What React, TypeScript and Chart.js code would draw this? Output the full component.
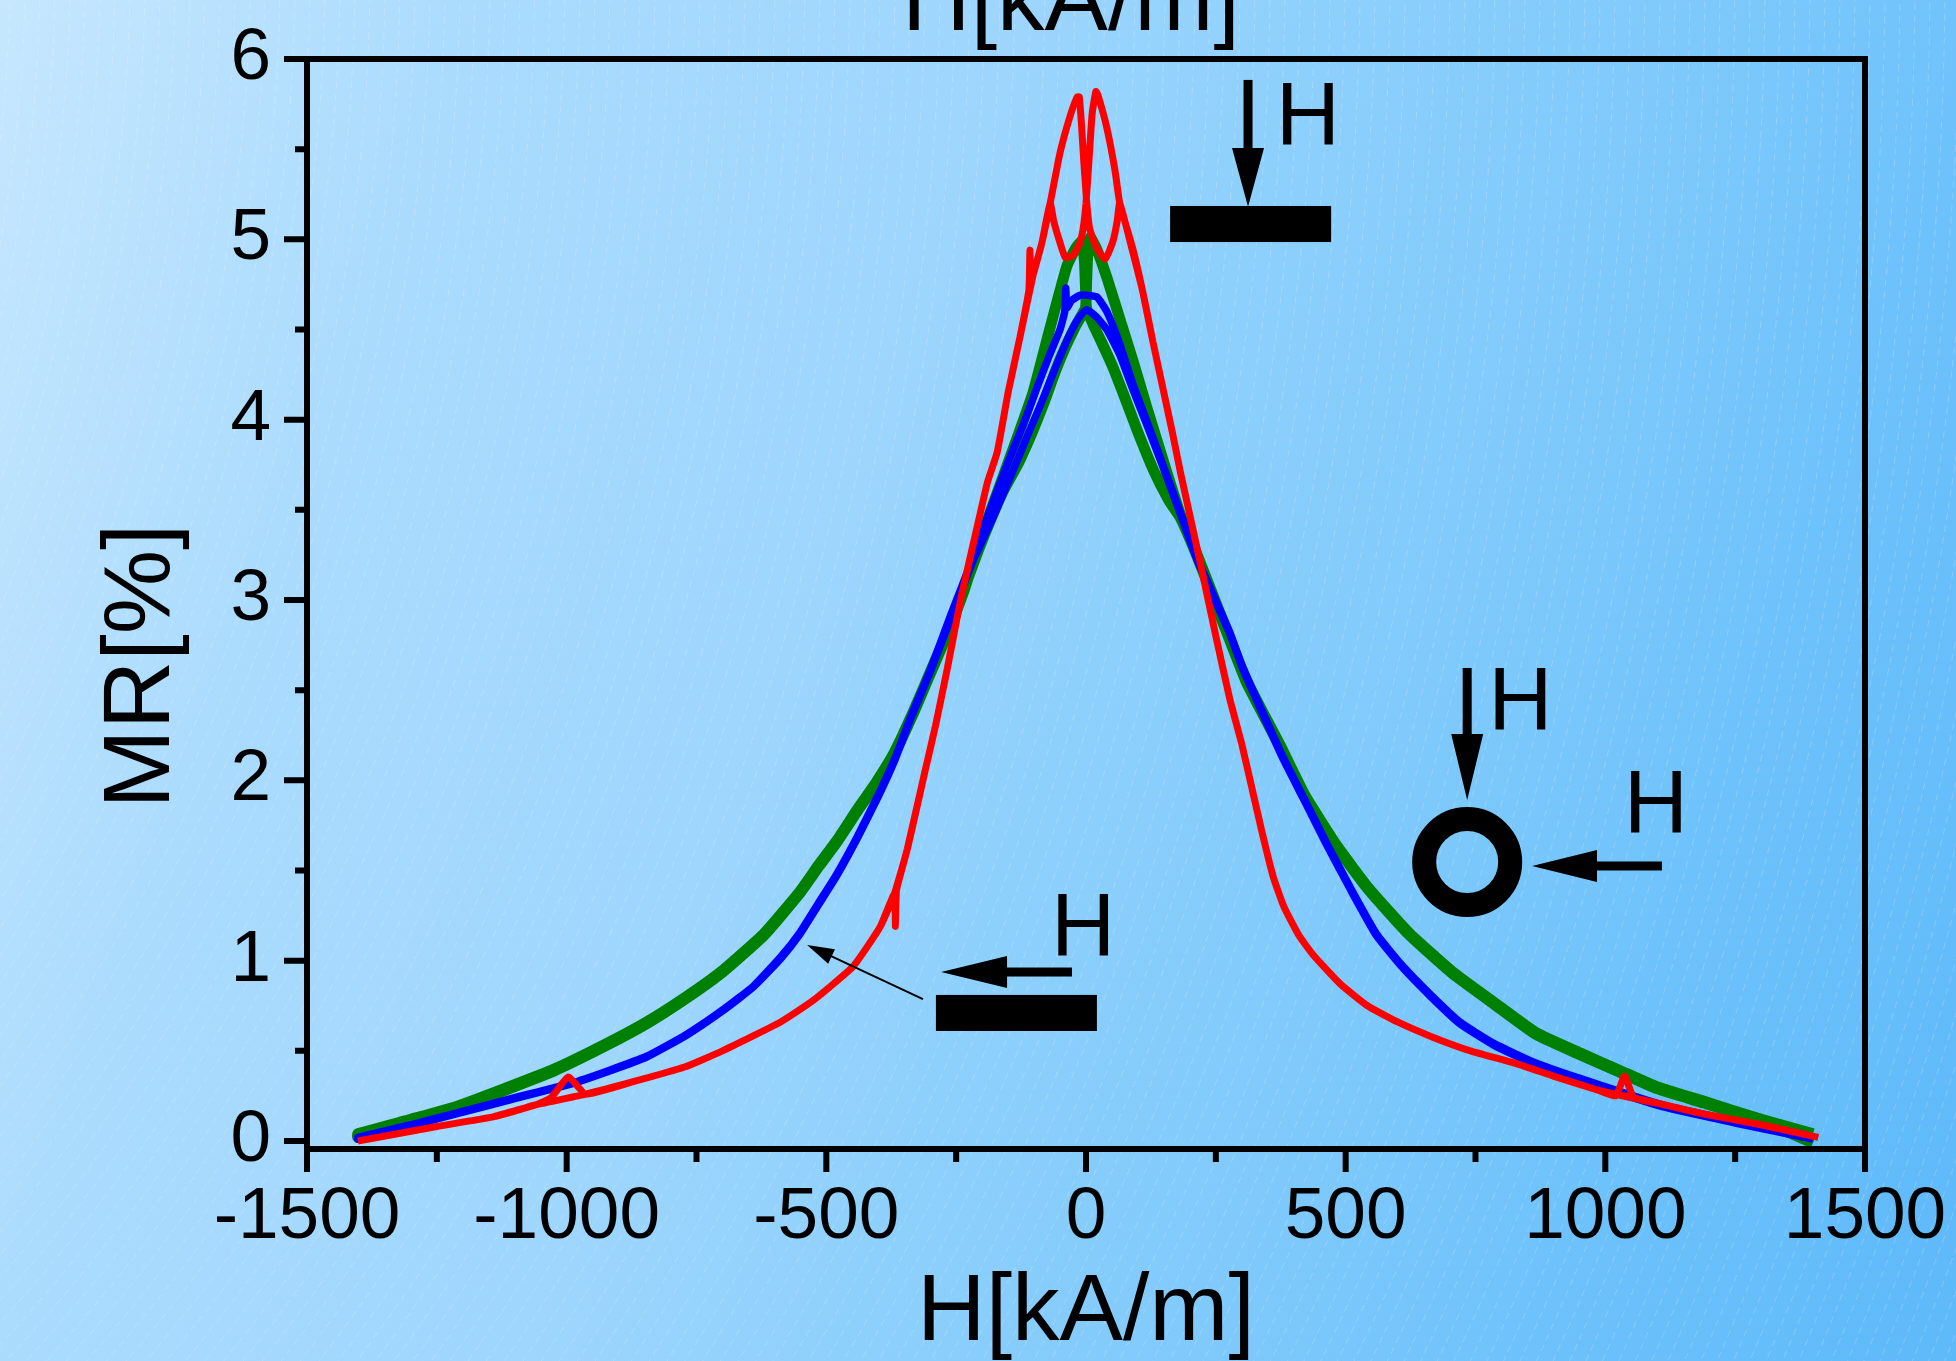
import React, { useEffect, useRef } from "react";
import { Chart, registerables } from "chart.js";

Chart.register(...registerables);

const FONT = "'Liberation Sans', Arial, Helvetica, sans-serif";

// ---- axes ----
const xTicks = [-1500, -1000, -500, 0, 500, 1000, 1500];
const xMinorTicks = [-1250, -750, -250, 250, 750, 1250];
const yTicks = [0, 1, 2, 3, 4, 5, 6];
const yMinorTicks = [0.5, 1.5, 2.5, 3.5, 4.5, 5.5];
const xLabel = "H[kA/m]";
const yLabel = "MR[%]";
const annotationLabel = "H";

// ---- data: [H (kA/m), MR (%)] ----
// red loop, field sweep from +H to -H
const redDown: [number, number][] = [
  [1410, 0.02], [1300, 0.09], [1190, 0.15], [1100, 0.21], [988, 0.28], [900, 0.36], [827, 0.43],
  [740, 0.5], [664, 0.58], [600, 0.66], [542, 0.75], [490, 0.87], [438, 1.03], [410, 1.14],
  [381, 1.3], [360, 1.47], [340, 1.7], [320, 1.95], [300, 2.2], [277, 2.45], [250, 2.8],
  [219, 3.22], [181, 3.72], [167, 3.92], [129, 4.43], [110, 4.7], [90, 4.95], [65, 5.2],
  [56, 5.38], [40, 5.62], [23, 5.8], [19, 5.82], [12, 5.7], [6, 5.45], [0, 5.2], [-6, 5.05],
  [-12, 4.98], [-25, 4.91], [-40, 4.9], [-52, 5.0], [-62, 5.1], [-69, 5.2], [-85, 4.98],
  [-102, 4.8], [-106, 4.75], [-108, 4.94], [-110, 4.72], [-127, 4.46], [-150, 4.15],
  [-171, 3.82], [-190, 3.65], [-210, 3.4], [-240, 3.02], [-267, 2.62], [-290, 2.3],
  [-310, 2.05], [-344, 1.62], [-360, 1.45], [-365, 1.39], [-367, 1.19], [-369, 1.37],
  [-396, 1.19], [-448, 0.97], [-525, 0.78], [-588, 0.66], [-700, 0.5], [-773, 0.41],
  [-870, 0.33], [-963, 0.26], [-997, 0.355], [-1030, 0.24], [-1060, 0.2], [-1140, 0.135],
  [-1250, 0.08], [-1402, 0.0],
];
// red loop, field sweep from -H to +H
const redUp: [number, number][] = [
  [-1402, 0.0], [-1250, 0.08], [-1140, 0.135], [-1060, 0.2], [-963, 0.26], [-870, 0.33],
  [-773, 0.41], [-700, 0.5], [-588, 0.66], [-525, 0.78], [-448, 0.97], [-396, 1.19],
  [-369, 1.37], [-344, 1.62], [-310, 2.05], [-290, 2.3], [-267, 2.62], [-240, 3.02],
  [-210, 3.4], [-190, 3.65], [-171, 3.82], [-150, 4.15], [-127, 4.46], [-102, 4.8],
  [-85, 4.98], [-69, 5.2], [-50, 5.48], [-31, 5.68], [-17, 5.79], [-13, 5.79], [-9, 5.65],
  [-4, 5.42], [1, 5.22], [5, 5.1], [8, 5.05], [21, 4.95], [37, 4.89], [52, 4.99], [60, 5.1],
  [65, 5.2], [90, 4.93], [110, 4.7], [129, 4.43], [167, 3.92], [181, 3.72], [219, 3.22],
  [250, 2.8], [277, 2.45], [300, 2.2], [320, 1.95], [340, 1.7], [360, 1.47], [381, 1.3],
  [410, 1.14], [438, 1.03], [490, 0.87], [542, 0.75], [600, 0.66], [664, 0.58], [740, 0.5],
  [827, 0.43], [900, 0.36], [988, 0.28], [1020, 0.25], [1037, 0.36], [1055, 0.24],
  [1100, 0.21], [1190, 0.15], [1300, 0.09], [1410, 0.02],
];

// blue loop
const blueDown: [number, number][] = [
  [1400, 0.02], [1250, 0.11], [1110, 0.2], [948, 0.35], [860, 0.44], [786, 0.54], [720, 0.66],
  [664, 0.81], [610, 0.97], [559, 1.15], [510, 1.4], [462, 1.66], [420, 1.9], [381, 2.12],
  [340, 2.38], [300, 2.64], [277, 2.82], [245, 3.03], [213, 3.24], [180, 3.5], [148, 3.75],
  [120, 3.97], [90, 4.2], [65, 4.42], [40, 4.6], [21, 4.68], [0, 4.69], [-12, 4.69],
  [-28, 4.66], [-37, 4.62], [-39, 4.73], [-41, 4.6], [-50, 4.5], [-70, 4.36], [-94, 4.18],
  [-120, 3.98], [-152, 3.75], [-185, 3.5], [-217, 3.24], [-260, 2.92], [-300, 2.61],
  [-335, 2.37], [-367, 2.13], [-400, 1.92], [-440, 1.69], [-480, 1.48], [-515, 1.32],
  [-550, 1.16], [-588, 1.02], [-640, 0.86], [-698, 0.73], [-770, 0.59], [-846, 0.47],
  [-920, 0.39], [-992, 0.32], [-1100, 0.24], [-1213, 0.155], [-1300, 0.09], [-1402, 0.02],
];
const blueUp: [number, number][] = [
  [-1402, 0.01], [-1300, 0.085], [-1213, 0.15], [-1100, 0.235], [-992, 0.315], [-920, 0.385],
  [-846, 0.465], [-770, 0.585], [-698, 0.725], [-640, 0.855], [-588, 1.01], [-550, 1.15],
  [-515, 1.31], [-480, 1.47], [-440, 1.68], [-400, 1.91], [-367, 2.12], [-335, 2.36],
  [-300, 2.6], [-260, 2.9], [-217, 3.22], [-180, 3.45], [-140, 3.72], [-110, 3.93],
  [-85, 4.1], [-60, 4.28], [-35, 4.45], [-15, 4.56], [1, 4.61], [20, 4.57], [40, 4.5],
  [65, 4.36], [90, 4.17], [120, 3.95], [148, 3.74], [180, 3.49], [213, 3.23], [245, 3.02],
  [277, 2.81], [300, 2.63], [340, 2.37], [381, 2.11], [420, 1.89], [462, 1.65], [510, 1.39],
  [559, 1.14], [610, 0.96], [664, 0.8], [720, 0.65], [786, 0.53], [860, 0.43], [948, 0.34],
  [1110, 0.19], [1250, 0.1], [1400, 0.01],
];

// green loop
const greenDown: [number, number][] = [
  [1400, 0.04], [1300, 0.12], [1190, 0.22], [1100, 0.3], [1029, 0.39], [950, 0.49], [867, 0.6],
  [790, 0.76], [705, 0.94], [620, 1.16], [542, 1.41], [480, 1.65], [421, 1.92], [373, 2.2],
  [340, 2.38], [308, 2.56], [275, 2.8], [244, 3.03], [210, 3.28], [181, 3.48], [150, 3.76],
  [120, 4.04], [90, 4.33], [65, 4.56], [40, 4.79], [20, 4.95], [8, 5.01], [3, 4.9], [1, 4.75],
  [-1, 4.62], [-20, 4.52], [-40, 4.4], [-60, 4.26], [-80, 4.1], [-105, 3.92], [-130, 3.76],
  [-160, 3.6], [-204, 3.3], [-235, 3.06], [-267, 2.82], [-300, 2.6], [-331, 2.39],
  [-370, 2.15], [-404, 1.99], [-440, 1.84], [-479, 1.67], [-515, 1.53], [-552, 1.38],
  [-620, 1.15], [-698, 0.95], [-770, 0.8], [-846, 0.66], [-930, 0.53], [-1023, 0.4],
  [-1120, 0.29], [-1213, 0.19], [-1300, 0.12], [-1402, 0.04],
];
const greenUp: [number, number][] = [
  [-1402, 0.02], [-1300, 0.11], [-1213, 0.18], [-1120, 0.28], [-1023, 0.39], [-930, 0.52],
  [-846, 0.65], [-770, 0.79], [-698, 0.94], [-620, 1.14], [-552, 1.37], [-515, 1.52],
  [-479, 1.66], [-440, 1.83], [-404, 1.98], [-370, 2.14], [-331, 2.38], [-300, 2.59],
  [-267, 2.81], [-235, 3.05], [-204, 3.33], [-160, 3.68], [-130, 3.92], [-102, 4.15],
  [-70, 4.5], [-37, 4.85], [-20, 4.95], [-8, 4.99], [-3, 4.88], [-1, 4.74], [1, 4.62],
  [15, 4.52], [30, 4.43], [52, 4.29], [75, 4.12], [100, 3.93], [130, 3.72], [160, 3.55],
  [181, 3.46], [210, 3.27], [244, 3.02], [275, 2.79], [308, 2.55], [340, 2.37], [373, 2.19],
  [421, 1.91], [480, 1.64], [542, 1.4], [620, 1.15], [705, 0.93], [790, 0.75], [867, 0.59],
  [950, 0.48], [1029, 0.38], [1100, 0.29], [1190, 0.21], [1300, 0.11], [1400, -0.01],
];

// ---- annotation anchors in data units (H, MR) ----
const topBar = [162, 472, 4.985, 5.185]; // xMin, xMax, yMin, yMax
const topArrow = [312, 5.884, 5.507, 5.18]; // x, yStart, yHeadBase, yTip
const topH = [377, 5.53]; // x left, baseline y
const ringCenter = [734, 1.547];
const ringDownArrow = [734, 2.623, 2.257, 1.891];
const ringDownH = [786, 2.285];
const ringLeftArrow = [1.525, 1109, 984, 859]; // y, xStart, xHeadBase, xTip
const ringLeftH = [1047, 1.714];
const lowBar = [-289, 21, 0.61, 0.81];
const lowArrow = [0.937, -27, -152, -279];
const lowH = [-56, 1.031];
const pointer = [-314, 0.787, -537, 1.087]; // from x,y to tip x,y

const toPts = (a: [number, number][]) => a.map(([x, y]) => ({ x, y }));

const zeroPad = (s: any) => {
  s.paddingTop = 0;
  s.paddingBottom = 0;
  s.paddingLeft = 0;
  s.paddingRight = 0;
};

const decorPlugin = {
  id: "decor",
  beforeDraw(chart: any) {
    const { ctx, width, height } = chart;
    ctx.save();
    const g = ctx.createLinearGradient(0, 0, 2166, 758);
    g.addColorStop(0, "#c6e7fe");
    g.addColorStop(0.2, "#aadbfd");
    g.addColorStop(0.4, "#9fd6fd");
    g.addColorStop(0.54, "#8ed0fc");
    g.addColorStop(0.72, "#7cc8fb");
    g.addColorStop(0.82, "#6ec2fb");
    g.addColorStop(1, "#5eb9f9");
    ctx.fillStyle = g;
    ctx.fillRect(0, 0, width, height);
    ctx.strokeStyle = "rgba(255,255,255,0.2)";
    ctx.lineWidth = 1;
    ctx.setLineDash([7, 5]);
    for (let r = 1480; r < 3800; r += 15) {
      ctx.beginPath();
      ctx.arc(-1500, -30, r, -0.05, 1.05);
      ctx.stroke();
    }
    ctx.restore();
  },
  afterDraw(chart: any) {
    const { ctx, chartArea: a, scales } = chart;
    const X = (v: number) => scales.x.getPixelForValue(v);
    const Y = (v: number) => scales.y.getPixelForValue(v);
    ctx.save();
    ctx.fillStyle = "#000";
    ctx.strokeStyle = "#000";
    ctx.setLineDash([]);
    // frame
    ctx.lineWidth = 6;
    ctx.lineJoin = "miter";
    ctx.strokeRect(a.left, a.top, a.right - a.left, a.bottom - a.top);
    // ticks
    ctx.beginPath();
    xTicks.forEach((v) => { ctx.moveTo(X(v), a.bottom); ctx.lineTo(X(v), a.bottom + 23); });
    xMinorTicks.forEach((v) => { ctx.moveTo(X(v), a.bottom); ctx.lineTo(X(v), a.bottom + 13); });
    yTicks.forEach((v) => { ctx.moveTo(a.left, Y(v)); ctx.lineTo(a.left - 23, Y(v)); });
    yMinorTicks.forEach((v) => { ctx.moveTo(a.left, Y(v)); ctx.lineTo(a.left - 12, Y(v)); });
    ctx.lineCap = "butt";
    ctx.stroke();

    // helpers
    const arrowDown = (x: number, y0: number, yb: number, yt: number) => {
      const px = X(x);
      ctx.fillRect(px - 4.5, Y(y0), 9, Y(yb) - Y(y0) + 1);
      ctx.beginPath();
      ctx.moveTo(px - 16, Y(yb));
      ctx.lineTo(px + 16, Y(yb));
      ctx.lineTo(px, Y(yt));
      ctx.closePath();
      ctx.fill();
    };
    const arrowLeft = (y: number, x0: number, xb: number, xt: number) => {
      const py = Y(y);
      ctx.fillRect(X(xb) - 1, py - 4.5, X(x0) - X(xb) + 1, 9);
      ctx.beginPath();
      ctx.moveTo(X(xb), py - 16);
      ctx.lineTo(X(xb), py + 16);
      ctx.lineTo(X(xt), py);
      ctx.closePath();
      ctx.fill();
    };
    const bar = (b: number[]) => {
      ctx.fillRect(X(b[0]), Y(b[3]), X(b[1]) - X(b[0]), Y(b[2]) - Y(b[3]));
    };
    const letter = (p: number[]) => {
      ctx.font = `89px ${FONT}`;
      ctx.textAlign = "left";
      ctx.textBaseline = "alphabetic";
      ctx.fillText(annotationLabel, X(p[0]) - 6, Y(p[1]));
    };

    // top annotation: H perpendicular to the film
    bar(topBar);
    arrowDown(topArrow[0], topArrow[1], topArrow[2], topArrow[3]);
    letter(topH);

    // ring annotation
    ctx.beginPath();
    ctx.lineWidth = 24;
    ctx.arc(X(ringCenter[0]), Y(ringCenter[1]), 43, 0, Math.PI * 2);
    ctx.stroke();
    arrowDown(ringDownArrow[0], ringDownArrow[1], ringDownArrow[2], ringDownArrow[3]);
    letter(ringDownH);
    arrowLeft(ringLeftArrow[0], ringLeftArrow[1], ringLeftArrow[2], ringLeftArrow[3]);
    letter(ringLeftH);

    // lower annotation: H in plane
    bar(lowBar);
    arrowLeft(lowArrow[0], lowArrow[1], lowArrow[2], lowArrow[3]);
    letter(lowH);

    // thin pointer arrow
    const fx = X(pointer[0]), fy = Y(pointer[1]), tx = X(pointer[2]), ty = Y(pointer[3]);
    const dx = fx - tx, dy = fy - ty;
    const len = Math.hypot(dx, dy);
    const ux = dx / len, uy = dy / len;
    ctx.lineWidth = 2;
    ctx.beginPath();
    ctx.moveTo(fx, fy);
    ctx.lineTo(tx + ux * 20, ty + uy * 20);
    ctx.stroke();
    ctx.beginPath();
    ctx.moveTo(tx, ty);
    ctx.lineTo(tx + ux * 27 - uy * 8, ty + uy * 27 + ux * 8);
    ctx.lineTo(tx + ux * 27 + uy * 8, ty + uy * 27 - ux * 8);
    ctx.closePath();
    ctx.fill();

    // y axis title
    ctx.save();
    ctx.translate(169, (a.top + a.bottom) / 2 + 62);
    ctx.rotate(-Math.PI / 2);
    ctx.font = `95px ${FONT}`;
    ctx.textAlign = "center";
    ctx.textBaseline = "alphabetic";
    ctx.fillText(yLabel, 0, 0);
    ctx.restore();

    // duplicated (cut-off) axis title at the top
    ctx.font = `95px ${FONT}`;
    ctx.textAlign = "center";
    ctx.textBaseline = "alphabetic";
    ctx.fillText(xLabel, (a.left + a.right) / 2 - 15, a.top - 29);

    ctx.restore();
  },
};

export default function App() {
  const ref = useRef<HTMLCanvasElement>(null);
  useEffect(() => {
    Chart.defaults.font.family = FONT;
    const canvas = ref.current as HTMLCanvasElement;
    const ds = (label: string, pts: [number, number][], color: string, w: number) => ({
      label,
      data: toPts(pts),
      borderColor: color,
      backgroundColor: color,
      borderWidth: w,
      showLine: true,
      pointRadius: 0,
      pointHoverRadius: 0,
      tension: 0.15,
      fill: false,
      borderJoinStyle: "bevel" as const,
      borderCapStyle: "butt" as const,
    });
    const chart = new Chart(canvas, {
      type: "scatter",
      data: {
        datasets: [
          ds("red", [...redDown, ...redUp], "#ff0000", 7),
          ds("blue", [...blueDown, ...blueUp], "#0000ff", 7.5),
          ds("green", [...greenDown, ...greenUp], "#008000", 11),
        ],
      },
      options: {
        responsive: false,
        maintainAspectRatio: false,
        animation: false,
        devicePixelRatio: 1,
        events: [],
        layout: { padding: { top: 59, right: 91, bottom: 0, left: 0 } },
        plugins: {
          legend: { display: false },
          tooltip: { enabled: false },
          title: { display: false },
        },
        scales: {
          x: {
            type: "linear",
            position: "bottom",
            min: -1500,
            max: 1500,
            afterBuildTicks: (s: any) => { s.ticks = xTicks.map((v) => ({ value: v })); },
            afterFit: (s: any) => { s.height = 212; zeroPad(s); },
            grid: { display: false, drawTicks: false },
            border: { display: false },
            ticks: {
              autoSkip: false,
              maxRotation: 0,
              minRotation: 0,
              padding: 32,
              color: "#000",
              font: { family: FONT, size: 73, lineHeight: 1 },
              callback: (v: any) => String(v),
            },
            title: {
              display: true,
              text: xLabel,
              color: "#000",
              font: { family: FONT, size: 95, lineHeight: 1 },
              padding: 0,
            },
          },
          y: {
            type: "linear",
            position: "left",
            min: -0.0444,
            max: 6,
            afterBuildTicks: (s: any) => { s.ticks = yTicks.map((v) => ({ value: v })); },
            afterFit: (s: any) => { s.width = 307; zeroPad(s); },
            grid: { display: false, drawTicks: false },
            border: { display: false },
            ticks: {
              autoSkip: false,
              padding: 36,
              color: "#000",
              font: { family: FONT, size: 73, lineHeight: 1 },
              callback: (v: any) => String(v),
            },
            title: { display: false },
          },
        },
      } as any,
      plugins: [decorPlugin],
    });
    return () => chart.destroy();
  }, []);
  return (
    <div style={{ position: "fixed", left: 0, top: 0, width: 1956, height: 1361 }}>
      <canvas ref={ref} width={1956} height={1361} style={{ display: "block", width: 1956, height: 1361 }} />
    </div>
  );
}
